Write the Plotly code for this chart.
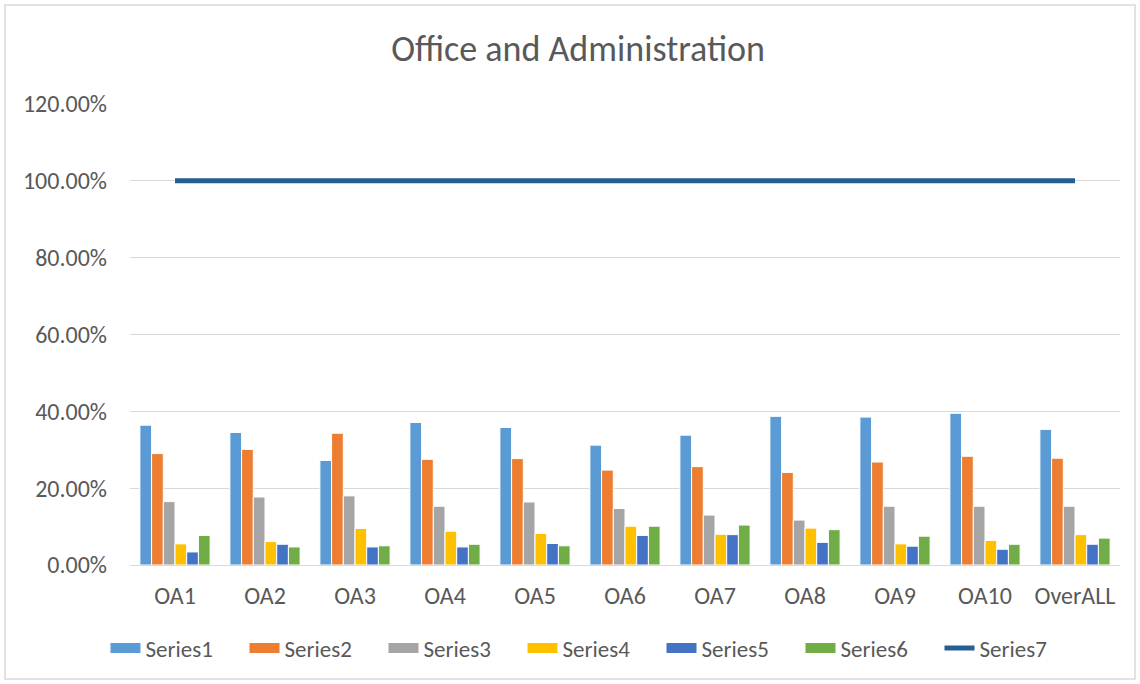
import plotly.graph_objects as go

categories = ["OA1", "OA2", "OA3", "OA4", "OA5", "OA6", "OA7", "OA8", "OA9", "OA10", "OverALL"]
series1 = [0.364, 0.345, 0.272, 0.371, 0.358, 0.312, 0.338, 0.387, 0.385, 0.395, 0.353]
series2 = [0.290, 0.301, 0.343, 0.275, 0.277, 0.247, 0.256, 0.241, 0.268, 0.283, 0.278]
series3 = [0.165, 0.177, 0.180, 0.153, 0.164, 0.147, 0.130, 0.117, 0.153, 0.153, 0.153]
series4 = [0.055, 0.061, 0.095, 0.088, 0.082, 0.101, 0.080, 0.096, 0.055, 0.064, 0.079]
series5 = [0.034, 0.054, 0.047, 0.047, 0.056, 0.077, 0.079, 0.059, 0.049, 0.041, 0.054]
series6 = [0.077, 0.047, 0.050, 0.054, 0.050, 0.101, 0.104, 0.092, 0.075, 0.054, 0.070]
series7 = [1.0] * len(categories)

bar_series = [
    ("Series1", series1, "#5B9BD5"),
    ("Series2", series2, "#ED7D31"),
    ("Series3", series3, "#A5A5A5"),
    ("Series4", series4, "#FFC000"),
    ("Series5", series5, "#4472C4"),
    ("Series6", series6, "#70AD47"),
]

FONT = "Calibri, Carlito, Lato, 'Liberation Sans', sans-serif"
TXT = "#595959"

fig = go.Figure()
for name, vals, col in bar_series:
    fig.add_trace(go.Bar(
        x=categories, y=vals, name=name, legendgroup=name, showlegend=False,
        marker=dict(color=col, line=dict(color="white", width=1)),
    ))
    # legend-only entry giving a wide rectangular swatch like the original
    fig.add_trace(go.Scatter(
        x=[None], y=[None], name=name, legendgroup=name, mode="lines",
        line=dict(color=col, width=14), hoverinfo="skip",
    ))
fig.add_trace(go.Scatter(
    x=categories, y=series7, name="Series7", mode="lines",
    line=dict(color="#255E91", width=5),
))

L, R, T, B = 130, 20, 104, 119
pw, ph = 1140 - L - R, 684 - T - B

fig.update_layout(
    width=1140, height=684, autosize=False,
    paper_bgcolor="white", plot_bgcolor="white",
    margin=dict(l=L, r=R, t=T, b=B, autoexpand=False),
    barmode="group", bargap=0.22, bargroupgap=0.0,
    font=dict(family=FONT, color=TXT, size=24),
    title=dict(text="Office and Administration", xref="paper", x=(578 - L) / pw,
               xanchor="center", y=1 - 48 / 684, yanchor="middle",
               font=dict(family=FONT, size=36, color=TXT)),
    legend=dict(orientation="h", xref="paper", x=(592 - L) / pw, xanchor="center",
                y=(565 - 648) / ph, yanchor="middle",
                bgcolor="rgba(0,0,0,0)",
                font=dict(family=FONT, size=23, color=TXT),
                itemwidth=30, entrywidth=94, entrywidthmode="pixels",
                traceorder="normal"),
    showlegend=True,
)
fig.update_xaxes(showgrid=False, showline=True, linecolor="#d9d9d9", linewidth=1,
                 ticks="", ticklabelstandoff=9, tickangle=0,
                 tickfont=dict(family=FONT, size=24, color=TXT))
fig.update_yaxes(range=[0, 1.2], dtick=0.2, tickformat=".2%",
                 showgrid=True, gridcolor="#d9d9d9", gridwidth=1,
                 zeroline=False, showline=False, ticks="",
                 ticklabelstandoff=22,
                 tickfont=dict(family=FONT, size=24, color=TXT))

# chart border
fig.add_shape(type="rect", xref="paper", yref="paper",
              x0=(5 - L) / pw, x1=(1135 - L) / pw,
              y0=(565 - 679) / ph, y1=(565 - 5) / ph,
              line=dict(color="#d9d9d9", width=1.5), fillcolor="rgba(0,0,0,0)",
              layer="below")

fig.write_html("out.html", config={"displayModeBar": False})

# remove the default page margin so the figure sits at the window origin
with open("out.html", "r", encoding="utf-8") as f:
    html = f.read()
html = html.replace("<head>", "<head><style>html,body{margin:0;padding:0;overflow:hidden}</style>", 1)
with open("out.html", "w", encoding="utf-8") as f:
    f.write(html)
